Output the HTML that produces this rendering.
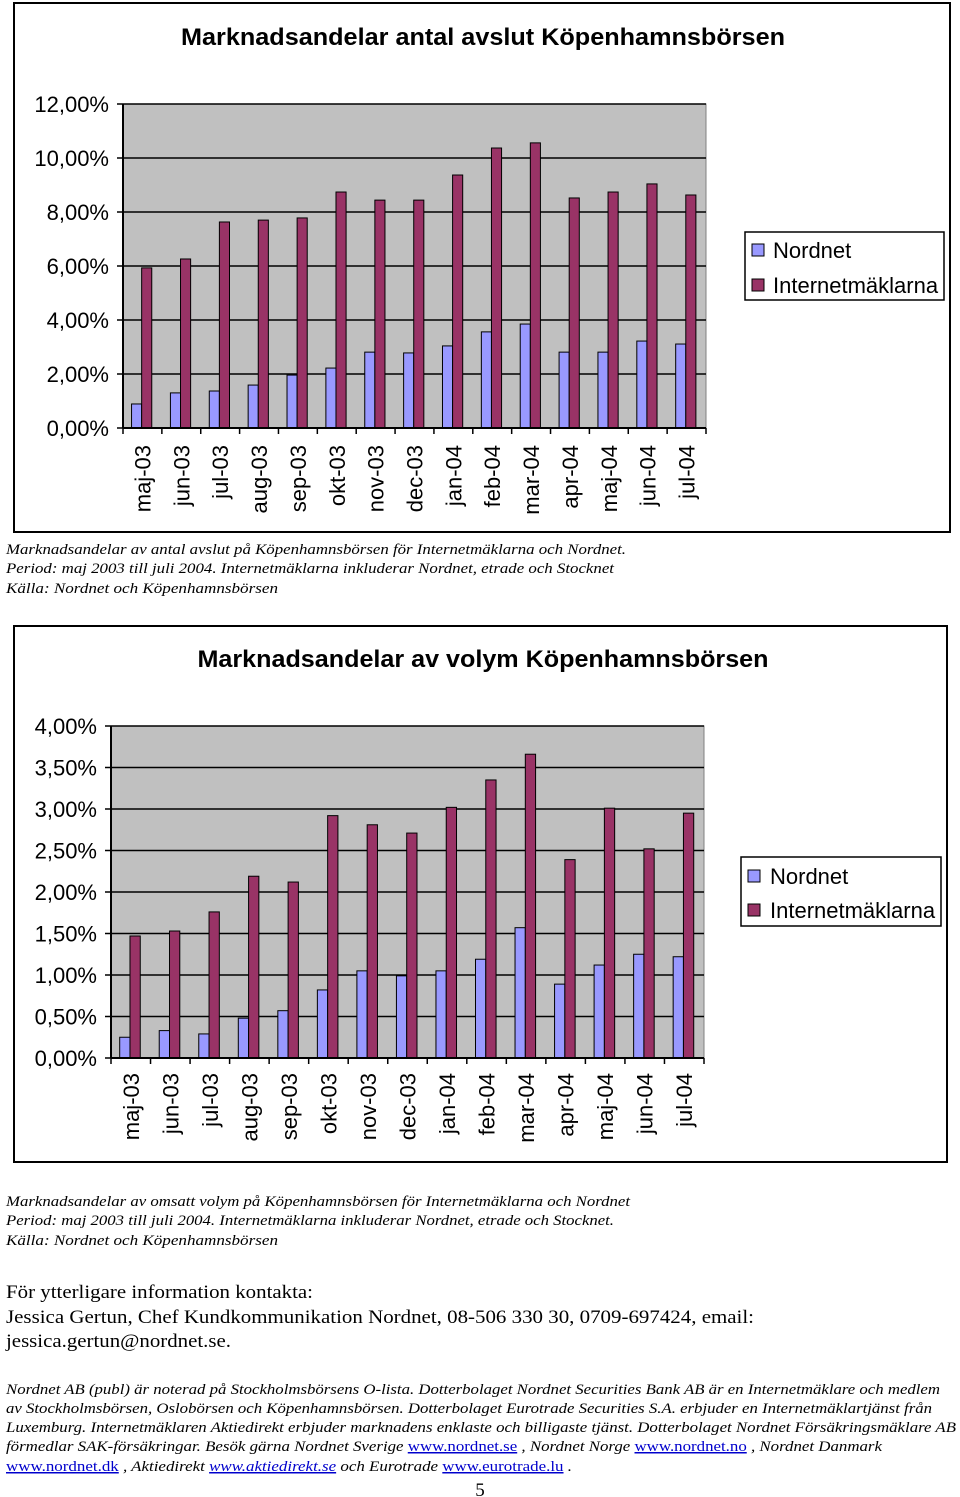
<!DOCTYPE html>
<html><head><meta charset="utf-8"><style>
html,body{margin:0;padding:0;background:#fff}
svg{display:block}
text{font-family:"Liberation Sans",sans-serif}
.serif{font-family:"Liberation Serif",serif}
</style></head><body>
<svg id="page" width="960" height="1497" viewBox="0 0 960 1497" xmlns="http://www.w3.org/2000/svg">
<rect x="14" y="3" width="936" height="529" fill="#fff" stroke="#000" stroke-width="2"/>
<text x="483" y="45" text-anchor="middle" font-size="24" font-weight="bold" textLength="604" lengthAdjust="spacingAndGlyphs">Marknadsandelar antal avslut Köpenhamnsbörsen</text>
<g id="c1"></g>
<g>
<rect x="745" y="232" width="199" height="68" fill="#fff" stroke="#000" stroke-width="1.5"/>
<rect x="752" y="244" width="12" height="12" fill="#9999ff" stroke="#000"/>
<text x="773" y="258" font-size="22">Nordnet</text>
<rect x="752" y="279" width="12" height="12" fill="#993366" stroke="#000"/>
<text x="773" y="293" font-size="22">Internetmäklarna</text>
</g>
<g class="serif" font-style="italic" font-size="15">
<text class="serif" x="6" y="554" textLength="620" lengthAdjust="spacingAndGlyphs">Marknadsandelar av antal avslut på Köpenhamnsbörsen för Internetmäklarna och Nordnet.</text>
<text class="serif" x="6" y="573" textLength="608" lengthAdjust="spacingAndGlyphs">Period: maj 2003 till juli 2004. Internetmäklarna inkluderar Nordnet, etrade och Stocknet</text>
<text class="serif" x="6" y="593" textLength="272" lengthAdjust="spacingAndGlyphs">Källa:  Nordnet och Köpenhamnsbörsen</text>
</g>

<rect x="14" y="626" width="933" height="536" fill="#fff" stroke="#000" stroke-width="2"/>
<text x="483" y="667" text-anchor="middle" font-size="24" font-weight="bold" textLength="571" lengthAdjust="spacingAndGlyphs">Marknadsandelar av volym Köpenhamnsbörsen</text>
<g id="c2"></g>
<g>
<rect x="741" y="857" width="200" height="69" fill="#fff" stroke="#000" stroke-width="1.5"/>
<rect x="748" y="870" width="12" height="12" fill="#9999ff" stroke="#000"/>
<text x="770" y="884" font-size="22">Nordnet</text>
<rect x="748" y="904" width="12" height="12" fill="#993366" stroke="#000"/>
<text x="770" y="918" font-size="22">Internetmäklarna</text>
</g>
<g font-style="italic" font-size="15">
<text class="serif" x="6" y="1206" textLength="624" lengthAdjust="spacingAndGlyphs">Marknadsandelar av omsatt volym på Köpenhamnsbörsen för Internetmäklarna och Nordnet</text>
<text class="serif" x="6" y="1225" textLength="608" lengthAdjust="spacingAndGlyphs">Period: maj 2003 till juli 2004. Internetmäklarna inkluderar Nordnet, etrade och Stocknet.</text>
<text class="serif" x="6" y="1245" textLength="272" lengthAdjust="spacingAndGlyphs">Källa:  Nordnet och Köpenhamnsbörsen</text>
</g>

<g font-size="19">
<text class="serif" x="6" y="1298" textLength="307" lengthAdjust="spacingAndGlyphs">För ytterligare information kontakta:</text>
<text class="serif" x="6" y="1323" textLength="748" lengthAdjust="spacingAndGlyphs">Jessica Gertun, Chef Kundkommunikation Nordnet, 08-506 330 30, 0709-697424, email:</text>
<text class="serif" x="6" y="1347" textLength="225" lengthAdjust="spacingAndGlyphs">jessica.gertun@nordnet.se.</text>
</g>
<g font-style="italic" font-size="15">
<text class="serif" x="6" y="1394" textLength="934" lengthAdjust="spacingAndGlyphs">Nordnet AB (publ) är noterad på Stockholmsbörsens O-lista. Dotterbolaget Nordnet Securities Bank AB är en Internetmäklare och medlem</text>
<text class="serif" x="6" y="1413" textLength="926" lengthAdjust="spacingAndGlyphs">av Stockholmsbörsen, Oslobörsen och Köpenhamnsbörsen. Dotterbolaget Eurotrade Securities S.A. erbjuder en Internetmäklartjänst från</text>
<text class="serif" x="6" y="1432" textLength="950" lengthAdjust="spacingAndGlyphs">Luxemburg. Internetmäklaren Aktiedirekt erbjuder marknadens enklaste och billigaste tjänst. Dotterbolaget Nordnet Försäkringsmäklare AB</text>
<text class="serif" x="6" y="1451" textLength="876" lengthAdjust="spacingAndGlyphs">förmedlar SAK-försäkringar. Besök gärna Nordnet Sverige <tspan fill="#00c" font-style="normal" text-decoration="underline">www.nordnet.se</tspan> , Nordnet Norge <tspan fill="#00c" font-style="normal" text-decoration="underline">www.nordnet.no</tspan> , Nordnet Danmark</text>
<text class="serif" x="6" y="1471" textLength="566" lengthAdjust="spacingAndGlyphs"><tspan fill="#00c" font-style="normal" text-decoration="underline">www.nordnet.dk</tspan> , Aktiedirekt <tspan fill="#00c" text-decoration="underline">www.aktiedirekt.se</tspan> och Eurotrade <tspan fill="#00c" font-style="normal" text-decoration="underline">www.eurotrade.lu</tspan> .</text>
</g>
<text class="serif" x="480" y="1496" text-anchor="middle" font-size="19">5</text>
</svg>
<script>
const categories = ["maj-03","jun-03","jul-03","aug-03","sep-03","okt-03","nov-03","dec-03","jan-04","feb-04","mar-04","apr-04","maj-04","jun-04","jul-04"];
const c1Nordnet = [0.89,1.3,1.37,1.59,1.96,2.22,2.81,2.78,3.04,3.56,3.85,2.81,2.81,3.22,3.11];
const c1Internet = [5.93,6.26,7.63,7.7,7.78,8.74,8.44,8.44,9.37,10.37,10.56,8.52,8.74,9.04,8.63];
const c1Ticks = ["0,00%","2,00%","4,00%","6,00%","8,00%","10,00%","12,00%"];
const c1TickVals = [0,2,4,6,8,10,12];
const c2Nordnet = [0.25,0.33,0.29,0.48,0.57,0.82,1.05,0.99,1.05,1.19,1.57,0.89,1.12,1.25,1.22];
const c2Internet = [1.47,1.53,1.76,2.19,2.12,2.92,2.81,2.71,3.02,3.35,3.66,2.39,3.01,2.52,2.95];
const c2Ticks = ["0,00%","0,50%","1,00%","1,50%","2,00%","2,50%","3,00%","3,50%","4,00%"];
const c2TickVals = [0,0.5,1,1.5,2,2.5,3,3.5,4];
const NS="http://www.w3.org/2000/svg";
function mk(parent,tag,attrs){const e=document.createElementNS(NS,tag);for(const k in attrs)e.setAttribute(k,attrs[k]);parent.appendChild(e);return e;}
function chart(id,x0,x1,yTop,yBot,max,nord,inet,ticks,tickVals,labelX,labelTop){
  const g=document.getElementById(id);
  const y=v=>yBot-(v/max)*(yBot-yTop);
  const cw=(x1-x0)/categories.length;
  const plot=mk(g,'rect',{x:x0,y:yTop,width:x1-x0,height:yBot-yTop,fill:'#c0c0c0',stroke:'#808080'});
  
  
  tickVals.forEach((v,i)=>{
    const l=mk(g,'line',{x1:x0-6,x2:x1,y1:y(v),y2:y(v),stroke:'#000','stroke-width':1.5});
    
    
    const t=mk(g,'text',{x:labelX,y:y(v)+8,'text-anchor':'end','font-size':22});
    t.textContent=ticks[i];
    
    
  });
  mk(g,'line',{x1:x0,x2:x0,y1:yTop,y2:yBot,stroke:'#000','stroke-width':2});
  const bw=cw*0.26;
  categories.forEach((c,i)=>{
    const gx=x0+i*cw;
    mk(g,'line',{x1:gx,x2:gx,y1:yBot,y2:yBot+6,stroke:'#000','stroke-width':1.5});
    const b1=mk(g,'rect',{x:gx+cw*0.22,y:y(nord[i]),width:bw,height:yBot-y(nord[i]),fill:'#9999ff',stroke:'#000','stroke-width':1});
    
    
    const b2=mk(g,'rect',{x:gx+cw*0.22+bw,y:y(inet[i]),width:bw,height:yBot-y(inet[i]),fill:'#993366',stroke:'#000','stroke-width':1});
    
    
    const cx=gx+cw/2+8;
    const t=mk(g,'text',{x:cx,y:labelTop,'text-anchor':'end','font-size':22,transform:`rotate(-90 ${cx} ${labelTop})`});
    t.textContent=c;
    
    
  });
  mk(g,'line',{x1:x1,x2:x1,y1:yBot,y2:yBot+6,stroke:'#000','stroke-width':1.5});
  mk(g,'line',{x1:x0,x2:x1,y1:yBot,y2:yBot,stroke:'#000','stroke-width':2});
}
chart('c1',123,706,104,428,12,c1Nordnet,c1Internet,c1Ticks,c1TickVals,109,445);
chart('c2',111,704,726,1058,4,c2Nordnet,c2Internet,c2Ticks,c2TickVals,97,1073);
</script>
</body></html>
